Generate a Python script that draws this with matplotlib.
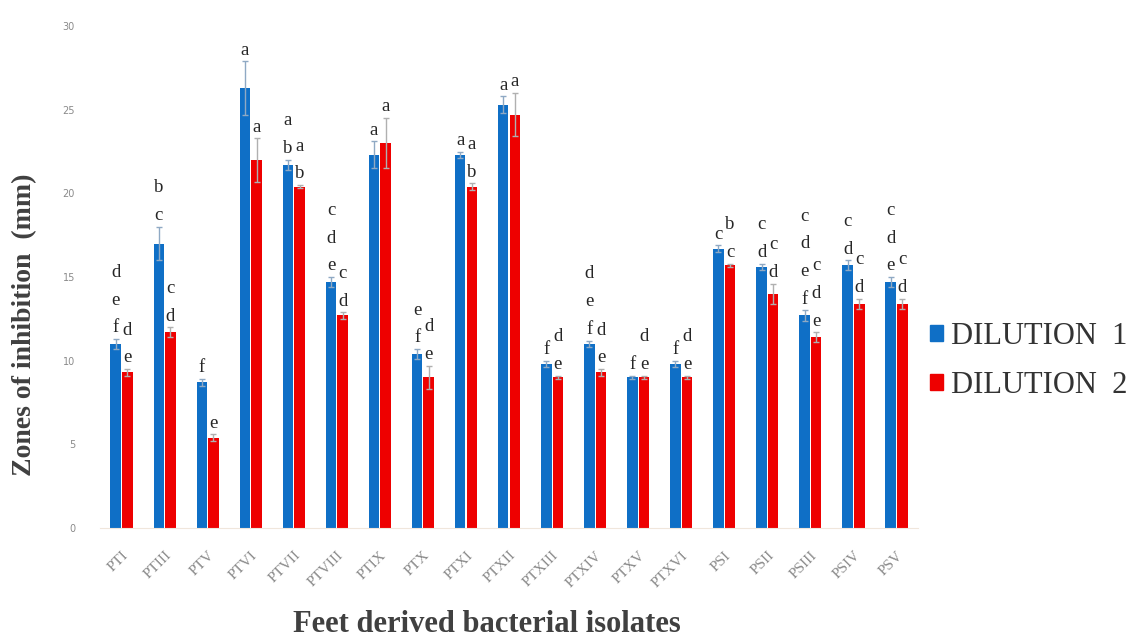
import numpy as np
import matplotlib.pyplot as plt
from matplotlib.patches import Patch

isolates = ['PTI', 'PTIII', 'PTV', 'PTVI', 'PTVII', 'PTVIII', 'PTIX', 'PTX', 'PTXI', 'PTXII',
            'PTXIII', 'PTXIV', 'PTXV', 'PTXVI', 'PSI', 'PSII', 'PSIII', 'PSIV', 'PSV']

# mean zone of inhibition (mm)
dil1 = [11.0, 17.0, 8.7, 26.3, 21.7, 14.7, 22.3, 10.4, 22.3, 25.3,
        9.8, 11.0, 9.0, 9.8, 16.7, 15.6, 12.7, 15.7, 14.7]
dil2 = [9.3, 11.7, 5.4, 22.0, 20.4, 12.7, 23.0, 9.0, 20.4, 24.7,
        9.0, 9.3, 9.0, 9.0, 15.7, 14.0, 11.4, 13.4, 13.4]
err1 = [0.3, 1.0, 0.2, 1.6, 0.3, 0.3, 0.8, 0.3, 0.2, 0.5,
        0.2, 0.2, 0.1, 0.2, 0.2, 0.2, 0.3, 0.3, 0.3]
err2 = [0.2, 0.3, 0.2, 1.3, 0.1, 0.2, 1.5, 0.7, 0.2, 1.3,
        0.1, 0.2, 0.1, 0.1, 0.1, 0.6, 0.3, 0.3, 0.3]

# significance letters, top to bottom
let1 = ['def', 'bc', 'f', 'a', 'ab', 'cde', 'a', 'ef', 'a', 'a',
        'f', 'def', 'f', 'f', 'c', 'cd', 'cdef', 'cd', 'cde']
let2 = ['de', 'cd', 'e', 'a', 'ab', 'cd', 'a', 'de', 'ab', 'a',
        'de', 'de', 'de', 'de', 'bc', 'cd', 'cde', 'cd', 'cd']

blue = '#0f6fc6'
red = '#ee0000'

fig = plt.figure(figsize=(11.38, 6.41), dpi=100)
ax = fig.add_axes([0.0879, 0.1763, 0.7188, 0.7831])

x = np.arange(len(isolates))
w = 0.245
off = 0.135
ax.bar(x - off, dil1, w, color=blue, yerr=err1,
       error_kw=dict(ecolor='#8fa9c4', elinewidth=1, capsize=2.5, capthick=1))
ax.bar(x + off, dil2, w, color=red, yerr=err2,
       error_kw=dict(ecolor='#b0b0b0', elinewidth=1, capsize=2.5, capthick=1))

def put_letters(xs, tops, errs, letters):
    for xi, t, e, s in zip(xs, tops, errs, letters):
        for k, ch in enumerate(reversed(s)):
            ax.annotate(ch, (xi, t + e), xytext=(0, 8 + 20 * k), textcoords='offset points',
                        ha='center', va='center', fontsize=13.5, color='#262626',
                        family='Liberation Serif')

put_letters(x - off, dil1, err1, let1)
put_letters(x + off, dil2, err2, let2)

ax.set_xlim(-0.5, 18.5)
ax.set_ylim(0, 30)
ax.set_yticks(np.arange(0, 31, 5))
ax.tick_params(axis='y', length=0, labelsize=7, labelcolor='#8a8a8a', pad=18)
ax.set_xticks(x)
ax.set_xticklabels(isolates, rotation=45, ha='right', rotation_mode='anchor',
                   fontsize=11, color='#8a8a8a', family='Liberation Serif')
ax.tick_params(axis='x', length=0, pad=15)
for s in ['top', 'right', 'left']:
    ax.spines[s].set_visible(False)
ax.spines['bottom'].set_color('#f0e6dc')

fig.text(0.022, 0.493, 'Zones of inhibition  (mm)', rotation=90, ha='center', va='center',
         fontsize=20, fontweight='bold', color='#404040', family='Liberation Serif')
fig.text(0.428, 0.025, 'Feet derived bacterial isolates', ha='center', va='center',
         fontsize=22, fontweight='bold', color='#404040', family='Liberation Serif')

handles = [Patch(color=blue, label='DILUTION  1'), Patch(color=red, label='DILUTION  2')]
fig.legend(handles=handles, loc='center left', bbox_to_anchor=(0.817, 0.437), frameon=False,
           borderpad=0, borderaxespad=0,
           prop={'family': 'Liberation Serif', 'size': 22}, labelcolor='#333333',
           handlelength=0.42, handleheight=0.42, handletextpad=0.28, labelspacing=0.65)

fig.savefig('out.png', dpi=100)
